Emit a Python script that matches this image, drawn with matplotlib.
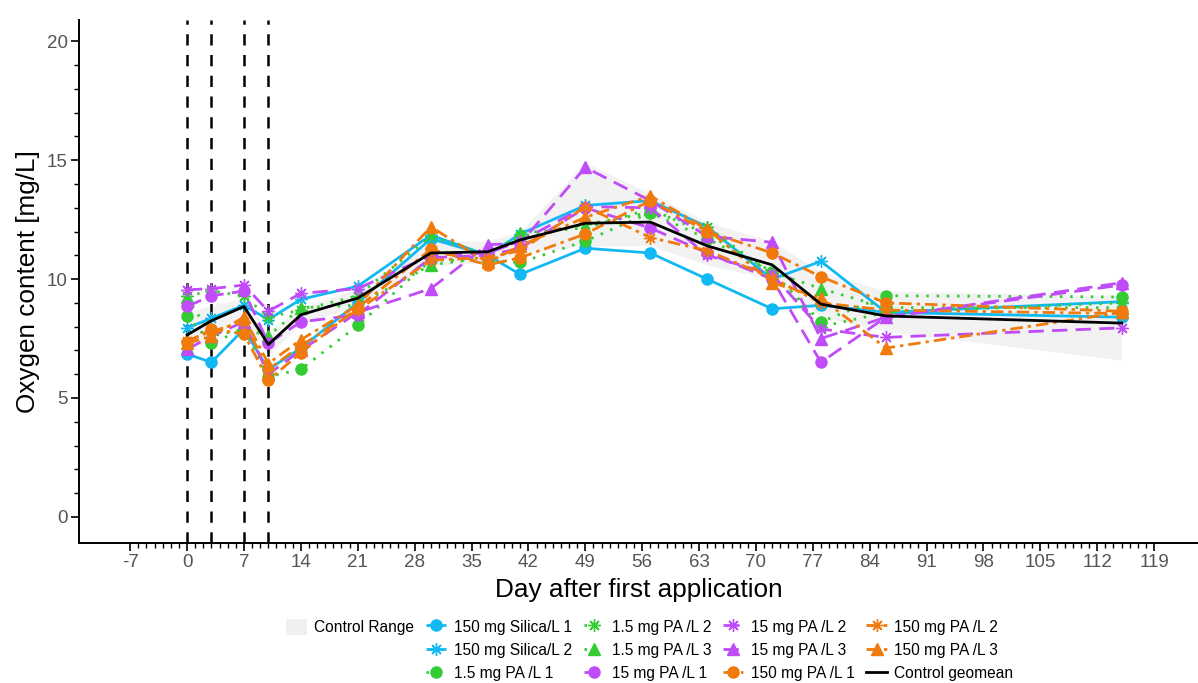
import numpy as np
import matplotlib
matplotlib.use("Agg")
import matplotlib.pyplot as plt
from matplotlib.lines import Line2D
from matplotlib.patches import Patch

plt.rcParams['font.family'] = ['Liberation Sans', 'DejaVu Sans']
plt.rcParams['axes.unicode_minus'] = False

### Data ###
days = [0, 3, 7, 10, 14, 21, 30, 37, 41, 49, 57, 64, 72, 78, 86, 115]
application_days = [0, 3, 7, 10]

control_max = [8.6, 8.9, 9.2, 7.8, 8.8, 9.6, 11.6, 11.6, 12.0, 14.9, 13.6, 12.4, 11.6, 10.3, 9.5, 9.3]
control_min = [7.0, 7.5, 8.4, 6.8, 8.1, 8.9, 10.6, 10.7, 11.1, 11.4, 11.4, 10.6, 10.0, 8.4, 7.8, 6.6]
control_geomean = [7.65, 8.25, 8.85, 7.25, 8.5, 9.2, 11.1, 11.15, 11.65, 12.35, 12.4, 11.4, 10.6, 8.95, 8.45, 8.15]

silica_1 = [6.85, 6.5, 7.9, 6.2, 7.1, 9.0, 11.7, 11.0, 10.2, 11.3, 11.1, 10.0, 8.75, 8.9, 8.6, 8.4]
silica_2 = [7.95, 8.35, 8.9, 8.3, 9.15, 9.7, 11.85, 11.0, 11.9, 13.1, 13.3, 12.2, 10.0, 10.75, 8.6, 9.05]
pa15_1 = [8.45, 7.3, 7.9, 5.9, 6.2, 8.05, 10.8, 10.8, 10.7, 11.6, 12.8, 11.7, 10.3, 8.2, 9.3, 9.25]
pa15_2 = [9.3, 9.5, 9.3, 8.4, 8.7, 9.3, 11.8, 11.0, 11.8, 12.3, 12.8, 12.2, 10.2, 8.0, 8.6, 9.0]
pa15_3 = [9.25, 7.6, 7.9, 7.6, 8.8, 8.9, 10.6, 10.9, 11.95, 12.15, 12.95, 11.9, 10.3, 9.6, 8.8, 8.8]
pa150_1 = [8.85, 9.3, 9.5, 7.3, 8.2, 8.5, 10.9, 11.0, 11.3, 13.0, 12.15, 11.1, 10.0, 6.5, 8.4, 9.75]
pa150_2 = [9.55, 9.6, 9.75, 8.65, 9.4, 9.6, 11.0, 11.1, 11.6, 13.05, 13.0, 11.0, 10.2, 7.9, 7.55, 7.95]
pa150_3 = [7.05, 7.6, 8.2, 6.0, 7.0, 8.6, 9.6, 11.45, 11.5, 14.7, 13.3, 11.8, 11.55, 7.5, 8.4, 9.85]
pa1500_1 = [7.35, 7.9, 7.7, 5.75, 6.9, 8.8, 11.25, 10.6, 10.9, 11.9, 13.3, 12.0, 11.1, 10.1, 9.0, 8.65]
pa1500_2 = [7.4, 7.8, 8.2, 6.2, 7.2, 8.7, 10.8, 10.9, 11.2, 13.05, 11.75, 11.2, 10.05, 9.0, 8.7, 8.55]
pa1500_3 = [7.3, 7.6, 8.4, 6.45, 7.45, 8.9, 12.2, 10.7, 11.4, 12.6, 13.5, 12.1, 9.85, 9.2, 7.1, 8.6]

labels = ["150 mg Silica/L 1", "150 mg Silica/L 2",
          "1.5 mg PA /L 1", "1.5 mg PA /L 2", "1.5 mg PA /L 3",
          "15 mg PA /L 1", "15 mg PA /L 2", "15 mg PA /L 3",
          "150 mg PA /L 1", "150 mg PA /L 2", "150 mg PA /L 3"]
series = [silica_1, silica_2, pa15_1, pa15_2, pa15_3,
          pa150_1, pa150_2, pa150_3, pa1500_1, pa1500_2, pa1500_3]

### Styles ###
BLUE = "#12B8F2"
GREEN = "#33CC33"
PURPLE = "#C04CF8"
ORANGE = "#F07A0C"
ASTER = (8, 2, 0)
dotted = (0, (0.9, 2.8))
dashed = (0, (5.5, 3.0))
dashdot = (0, (4.5, 1.8, 1.2, 1.8))

styles = [
    (BLUE, "-", "o"), (BLUE, "-", ASTER),
    (GREEN, dotted, "o"), (GREEN, dotted, ASTER), (GREEN, dotted, "^"),
    (PURPLE, dashed, "o"), (PURPLE, dashed, ASTER), (PURPLE, dashed, "^"),
    (ORANGE, dashdot, "o"), (ORANGE, dashdot, ASTER), (ORANGE, dashdot, "^"),
]

### Plot ###
fig = plt.figure(figsize=(11.98, 6.83), dpi=100)
ax = fig.add_axes([79 / 1198, 1 - 543 / 683, 1 - 79 / 1198, (543 - 20) / 683])

ax.fill_between(days, control_min, control_max, color="#F2F2F2", lw=0, zorder=1)

for x in application_days:
    ax.axvline(x, color="black", ls=(0, (4.5, 3.8)), lw=1.8, zorder=2)

handles = []
for vals, lab, (col, ls, mk) in zip(series, labels, styles):
    ms = 9 if mk == ASTER else 8
    line, = ax.plot(days, vals, color=col, ls=ls, lw=2.0, marker=mk, ms=ms,
                    mew=1.0, mfc=col, mec=col, label=lab, zorder=3,
                    solid_capstyle="butt", dash_capstyle="butt")
    handles.append(line)

geo, = ax.plot(days, control_geomean, color="black", lw=2.0, zorder=4, label="Control geomean")
handles.append(geo)

ax.set_xlim(-13.3, 124.4)
ax.set_ylim(-1.1, 20.9)
ax.set_xticks(np.arange(-7, 120, 7))
ax.set_yticks([0, 5, 10, 15, 20])
# minor ticks every day / every mg, only inside the labelled range
ax.set_xticks([d for d in range(-7, 120) if d % 7 != 0], minor=True)
ax.set_yticks([v for v in range(0, 21) if v % 5 != 0], minor=True)

for s in ["top", "right"]:
    ax.spines[s].set_visible(False)
for s in ["left", "bottom"]:
    ax.spines[s].set_linewidth(1.4)

ax.tick_params(which="major", length=6, width=1.2, labelsize=13.5, labelcolor="#555555", pad=2)
ax.tick_params(which="minor", length=3.5, width=1.0)

ax.set_xlabel("Day after first application", fontsize=18.8, labelpad=5)
ax.set_ylabel("Oxygen content [mg/L]", fontsize=18.8, labelpad=5)

### Legend ###
blank = Line2D([], [], alpha=0)
ribbon = Patch(facecolor="#F0F0F0", edgecolor="none")
leg_handles = [ribbon, blank, blank] + handles
leg_labels = ["Control Range", "", ""] + labels + ["Control geomean"]
fig.legend(leg_handles, leg_labels, ncol=5, loc="center",
           bbox_to_anchor=(650 / 1198, 1 - 650 / 683), frameon=False,
           fontsize=11.2, handlelength=1.3, handleheight=1.2, handletextpad=0.5,
           columnspacing=0.75, labelspacing=0.45, borderaxespad=0)

fig.savefig("out.png", dpi=100)
